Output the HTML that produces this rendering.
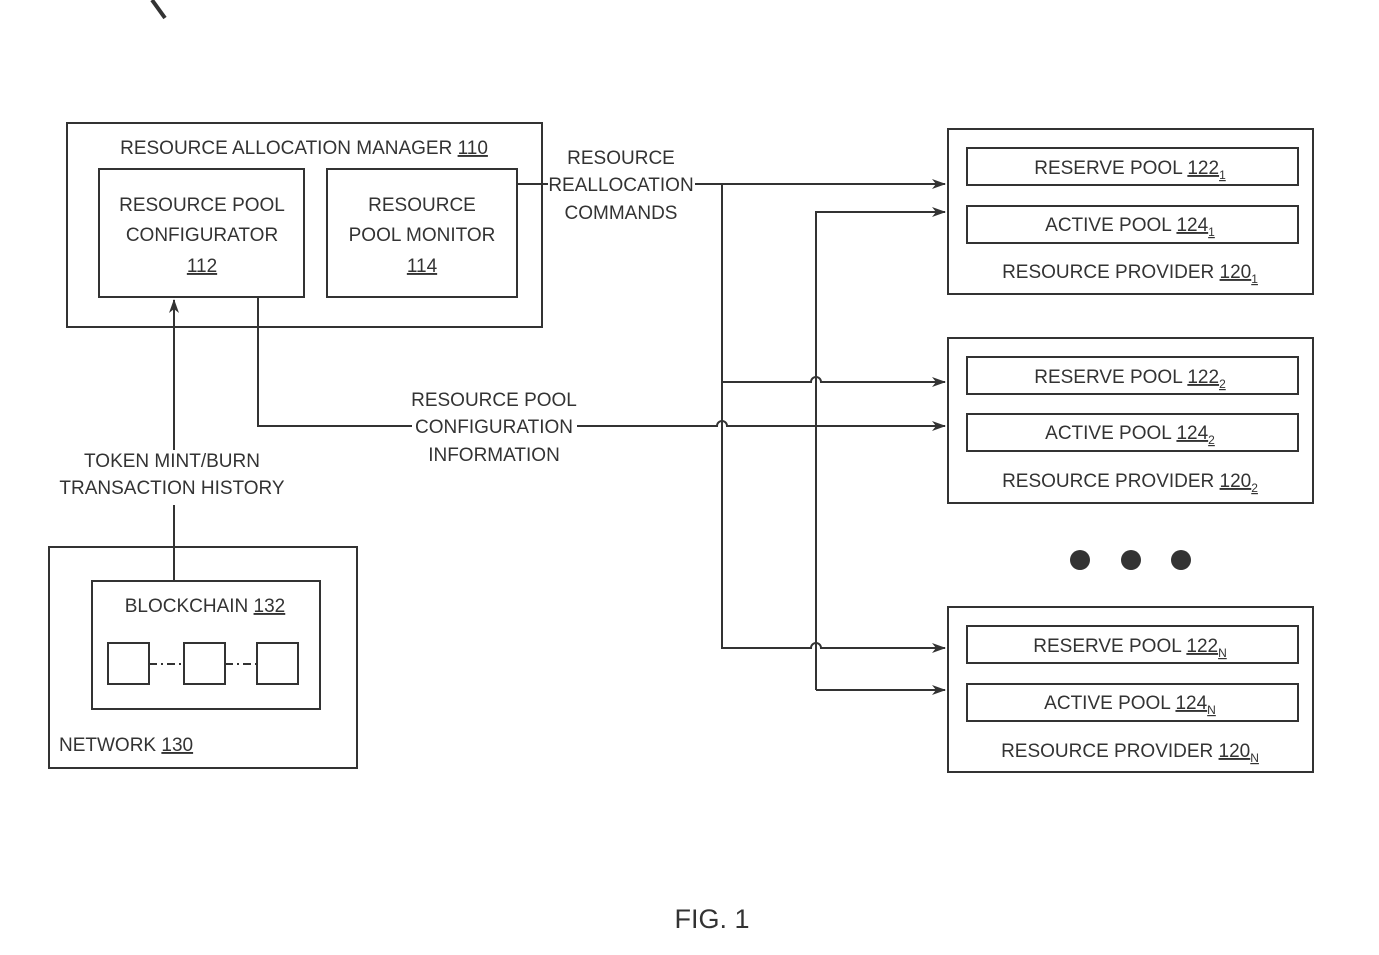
<!DOCTYPE html>
<html><head><style>
body{margin:0;background:#fff}
svg{display:block}
text{font-family:"Liberation Sans",sans-serif;font-size:19px;fill:#333}
</style></head><body>
<svg width="1379" height="955" viewBox="0 0 1379 955" xmlns="http://www.w3.org/2000/svg">
<defs><marker id="a" markerWidth="14" markerHeight="12" refX="13" refY="6" orient="auto" markerUnits="userSpaceOnUse"><path d="M0,1 L14,6 L0,11 L4,6 Z" fill="#333"/></marker></defs>
<g fill="none" stroke="#333" stroke-width="2">
<path d="M152,0 L165,18" stroke-width="4"/>
<rect x="67" y="123" width="475" height="204"/>
<rect x="99" y="169" width="205" height="128"/>
<rect x="327" y="169" width="190" height="128"/>
<rect x="49" y="547" width="308" height="221"/>
<rect x="92" y="581" width="228" height="128"/>
<rect x="108" y="643" width="41" height="41"/>
<rect x="184" y="643" width="41" height="41"/>
<rect x="257" y="643" width="41" height="41"/>
<path d="M149,664 H184 M225,664 H257" stroke-dasharray="8,4,2,4"/>
<rect x="948" y="129" width="365" height="165"/>
<rect x="967" y="148" width="331" height="37"/>
<rect x="967" y="206" width="331" height="37"/>
<rect x="948" y="338" width="365" height="165"/>
<rect x="967" y="357" width="331" height="37"/>
<rect x="967" y="414" width="331" height="37"/>
<rect x="948" y="607" width="365" height="165"/>
<rect x="967" y="626" width="331" height="37"/>
<rect x="967" y="684" width="331" height="37"/>
<path d="M174,580 V505 M174,450 V300" marker-end="url(#a)"/>
<path d="M517,184 H548 M695,184 H945" marker-end="url(#a)"/>
<path d="M722,184 V648 H811 a5,5 0 0 1 10,0 H945" marker-end="url(#a)"/>
<path d="M722,382 H811 a5,5 0 0 1 10,0 H945" marker-end="url(#a)"/>
<path d="M816,690 V212 H945" marker-end="url(#a)"/>
<path d="M816,690 H945" marker-end="url(#a)"/>
<path d="M258,298 V426 H412 M577,426 H717 a5,5 0 0 1 10,0 H945" marker-end="url(#a)"/>
</g>
<g fill="#333"><circle cx="1080" cy="560" r="10"/><circle cx="1131" cy="560" r="10"/><circle cx="1181" cy="560" r="10"/></g>
<g text-anchor="middle">
<text x="304" y="154">RESOURCE ALLOCATION MANAGER <tspan text-decoration="underline">110</tspan></text>
<text x="202" y="211">RESOURCE POOL</text>
<text x="202" y="241">CONFIGURATOR</text>
<text x="202" y="272" text-decoration="underline">112</text>
<text x="422" y="211">RESOURCE</text>
<text x="422" y="241">POOL MONITOR</text>
<text x="422" y="272" text-decoration="underline">114</text>
<text x="621" y="164">RESOURCE</text>
<text x="621" y="191">REALLOCATION</text>
<text x="621" y="219">COMMANDS</text>
<text x="494" y="406">RESOURCE POOL</text>
<text x="494" y="433">CONFIGURATION</text>
<text x="494" y="461">INFORMATION</text>
<text x="172" y="467">TOKEN MINT/BURN</text>
<text x="172" y="494">TRANSACTION HISTORY</text>
<text x="205" y="612">BLOCKCHAIN <tspan text-decoration="underline">132</tspan></text>
<text x="1130" y="174">RESERVE POOL <tspan text-decoration="underline">122<tspan font-size="12" dy="5">1</tspan></tspan></text>
<text x="1130" y="231">ACTIVE POOL <tspan text-decoration="underline">124<tspan font-size="12" dy="5">1</tspan></tspan></text>
<text x="1130" y="278">RESOURCE PROVIDER <tspan text-decoration="underline">120<tspan font-size="12" dy="5">1</tspan></tspan></text>
<text x="1130" y="383">RESERVE POOL <tspan text-decoration="underline">122<tspan font-size="12" dy="5">2</tspan></tspan></text>
<text x="1130" y="439">ACTIVE POOL <tspan text-decoration="underline">124<tspan font-size="12" dy="5">2</tspan></tspan></text>
<text x="1130" y="487">RESOURCE PROVIDER <tspan text-decoration="underline">120<tspan font-size="12" dy="5">2</tspan></tspan></text>
<text x="1130" y="652">RESERVE POOL <tspan text-decoration="underline">122<tspan font-size="12" dy="5">N</tspan></tspan></text>
<text x="1130" y="709">ACTIVE POOL <tspan text-decoration="underline">124<tspan font-size="12" dy="5">N</tspan></tspan></text>
<text x="1130" y="757">RESOURCE PROVIDER <tspan text-decoration="underline">120<tspan font-size="12" dy="5">N</tspan></tspan></text>
<text x="712" y="928" style="font-size:27px">FIG. 1</text>
</g>
<text x="59" y="751">NETWORK <tspan text-decoration="underline">130</tspan></text>
</svg>
</body></html>
